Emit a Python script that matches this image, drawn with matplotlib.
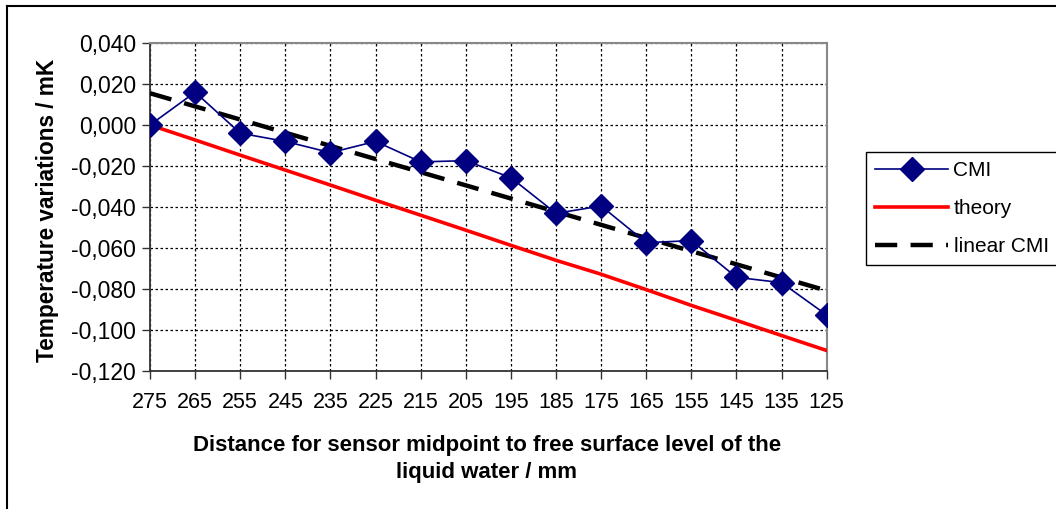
import numpy as np
import matplotlib.pyplot as plt
from matplotlib.lines import Line2D

distance = [275, 265, 255, 245, 235, 225, 215, 205, 195, 185, 175, 165, 155, 145, 135, 125]
cmi = [0.000, 0.016, -0.004, -0.008, -0.0135, -0.008, -0.018, -0.0174, -0.0257,
       -0.0431, -0.0395, -0.0574, -0.0564, -0.0743, -0.0769, -0.0927]
theory = [0.000, -0.0073, -0.0147, -0.022, -0.0293, -0.0367, -0.044, -0.0513,
          -0.0587, -0.066, -0.0728, -0.0803, -0.088, -0.0953, -0.1027, -0.110]
linear_ends = [0.0155, -0.0808]
y_ticks = [0.04, 0.02, 0.0, -0.02, -0.04, -0.06, -0.08, -0.10, -0.12]

W, H = 1056, 509
fig = plt.figure(figsize=(W / 100, H / 100), dpi=100)
ax = fig.add_axes([150 / W, 1 - 371 / H, (826.7 - 150) / W, (371 - 43) / H])

x = np.arange(len(distance))
ax.plot(x, theory, color="#ff0000", lw=2.6, zorder=3)
ax.plot([x[0], x[-1]], linear_ends, color="black", lw=3.2, dashes=(5, 3), zorder=4)
ax.plot(x, cmi, color="#000080", lw=1.2, marker="D", ms=12.5, mfc="#000080",
        mec="#000080", zorder=5)

ax.set_xlim(0, len(distance) - 1)
ax.set_ylim(-0.12, 0.04)
ax.set_xticks(x)
ax.set_xticklabels([str(d) for d in distance], family="Liberation Sans", fontsize=15.5)
ax.set_yticks(y_ticks)
ax.set_yticklabels([f"{v:.3f}".replace(".", ",").replace("-0,000", "0,000") for v in y_ticks],
                   family="Liberation Sans", fontsize=16.5)
ax.grid(True, color="black", ls=(0, (2, 2)), lw=0.9)
ax.tick_params(axis="both", direction="out", length=6, width=1, color="#333333", pad=4)
ax.tick_params(axis="x", pad=9)

for s in ["top", "right"]:
    ax.spines[s].set_color("#888888")
    ax.spines[s].set_linewidth(1.5)
for s in ["left", "bottom"]:
    ax.spines[s].set_color("#333333")
    ax.spines[s].set_linewidth(1.3)

fig.text(48 / W, 1 - 210 / H, "Temperature variations / mK", rotation=90,
         ha="center", va="center", family="Liberation Sans",
         fontweight="bold", fontsize=16.3)
fig.text(487 / W, 1 - 459 / H,
         "Distance for sensor midpoint to free surface level of the\nliquid water / mm",
         ha="center", va="center", family="Liberation Sans",
         fontweight="bold", fontsize=16, linespacing=1.35)

handles = [
    Line2D([], [], color="#000080", lw=1.2, marker="D", ms=12.5),
    Line2D([], [], color="#ff0000", lw=2.6),
    Line2D([], [], color="black", lw=3.2, dashes=(5, 3)),
]
leg = fig.legend(handles, ["CMI", "theory", "linear CMI"], loc="upper left",
                 bbox_to_anchor=(866 / W, 1 - 152 / H), borderaxespad=0,
                 prop={"family": "Liberation Sans", "size": 15},
                 handlelength=3.5, handletextpad=0.25, labelspacing=0.9,
                 borderpad=0.45, fancybox=False, framealpha=1, edgecolor="black")
leg.get_frame().set_linewidth(1.0)

# outer chart frame (only top and left edges visible in the reference)
fig.add_artist(Line2D([7 / W, 1], [1 - 6 / H, 1 - 6 / H], color="black", lw=1.5))
fig.add_artist(Line2D([7 / W, 7 / W], [0, 1 - 6 / H], color="black", lw=1.5))

fig.savefig("out.png", dpi=100)
